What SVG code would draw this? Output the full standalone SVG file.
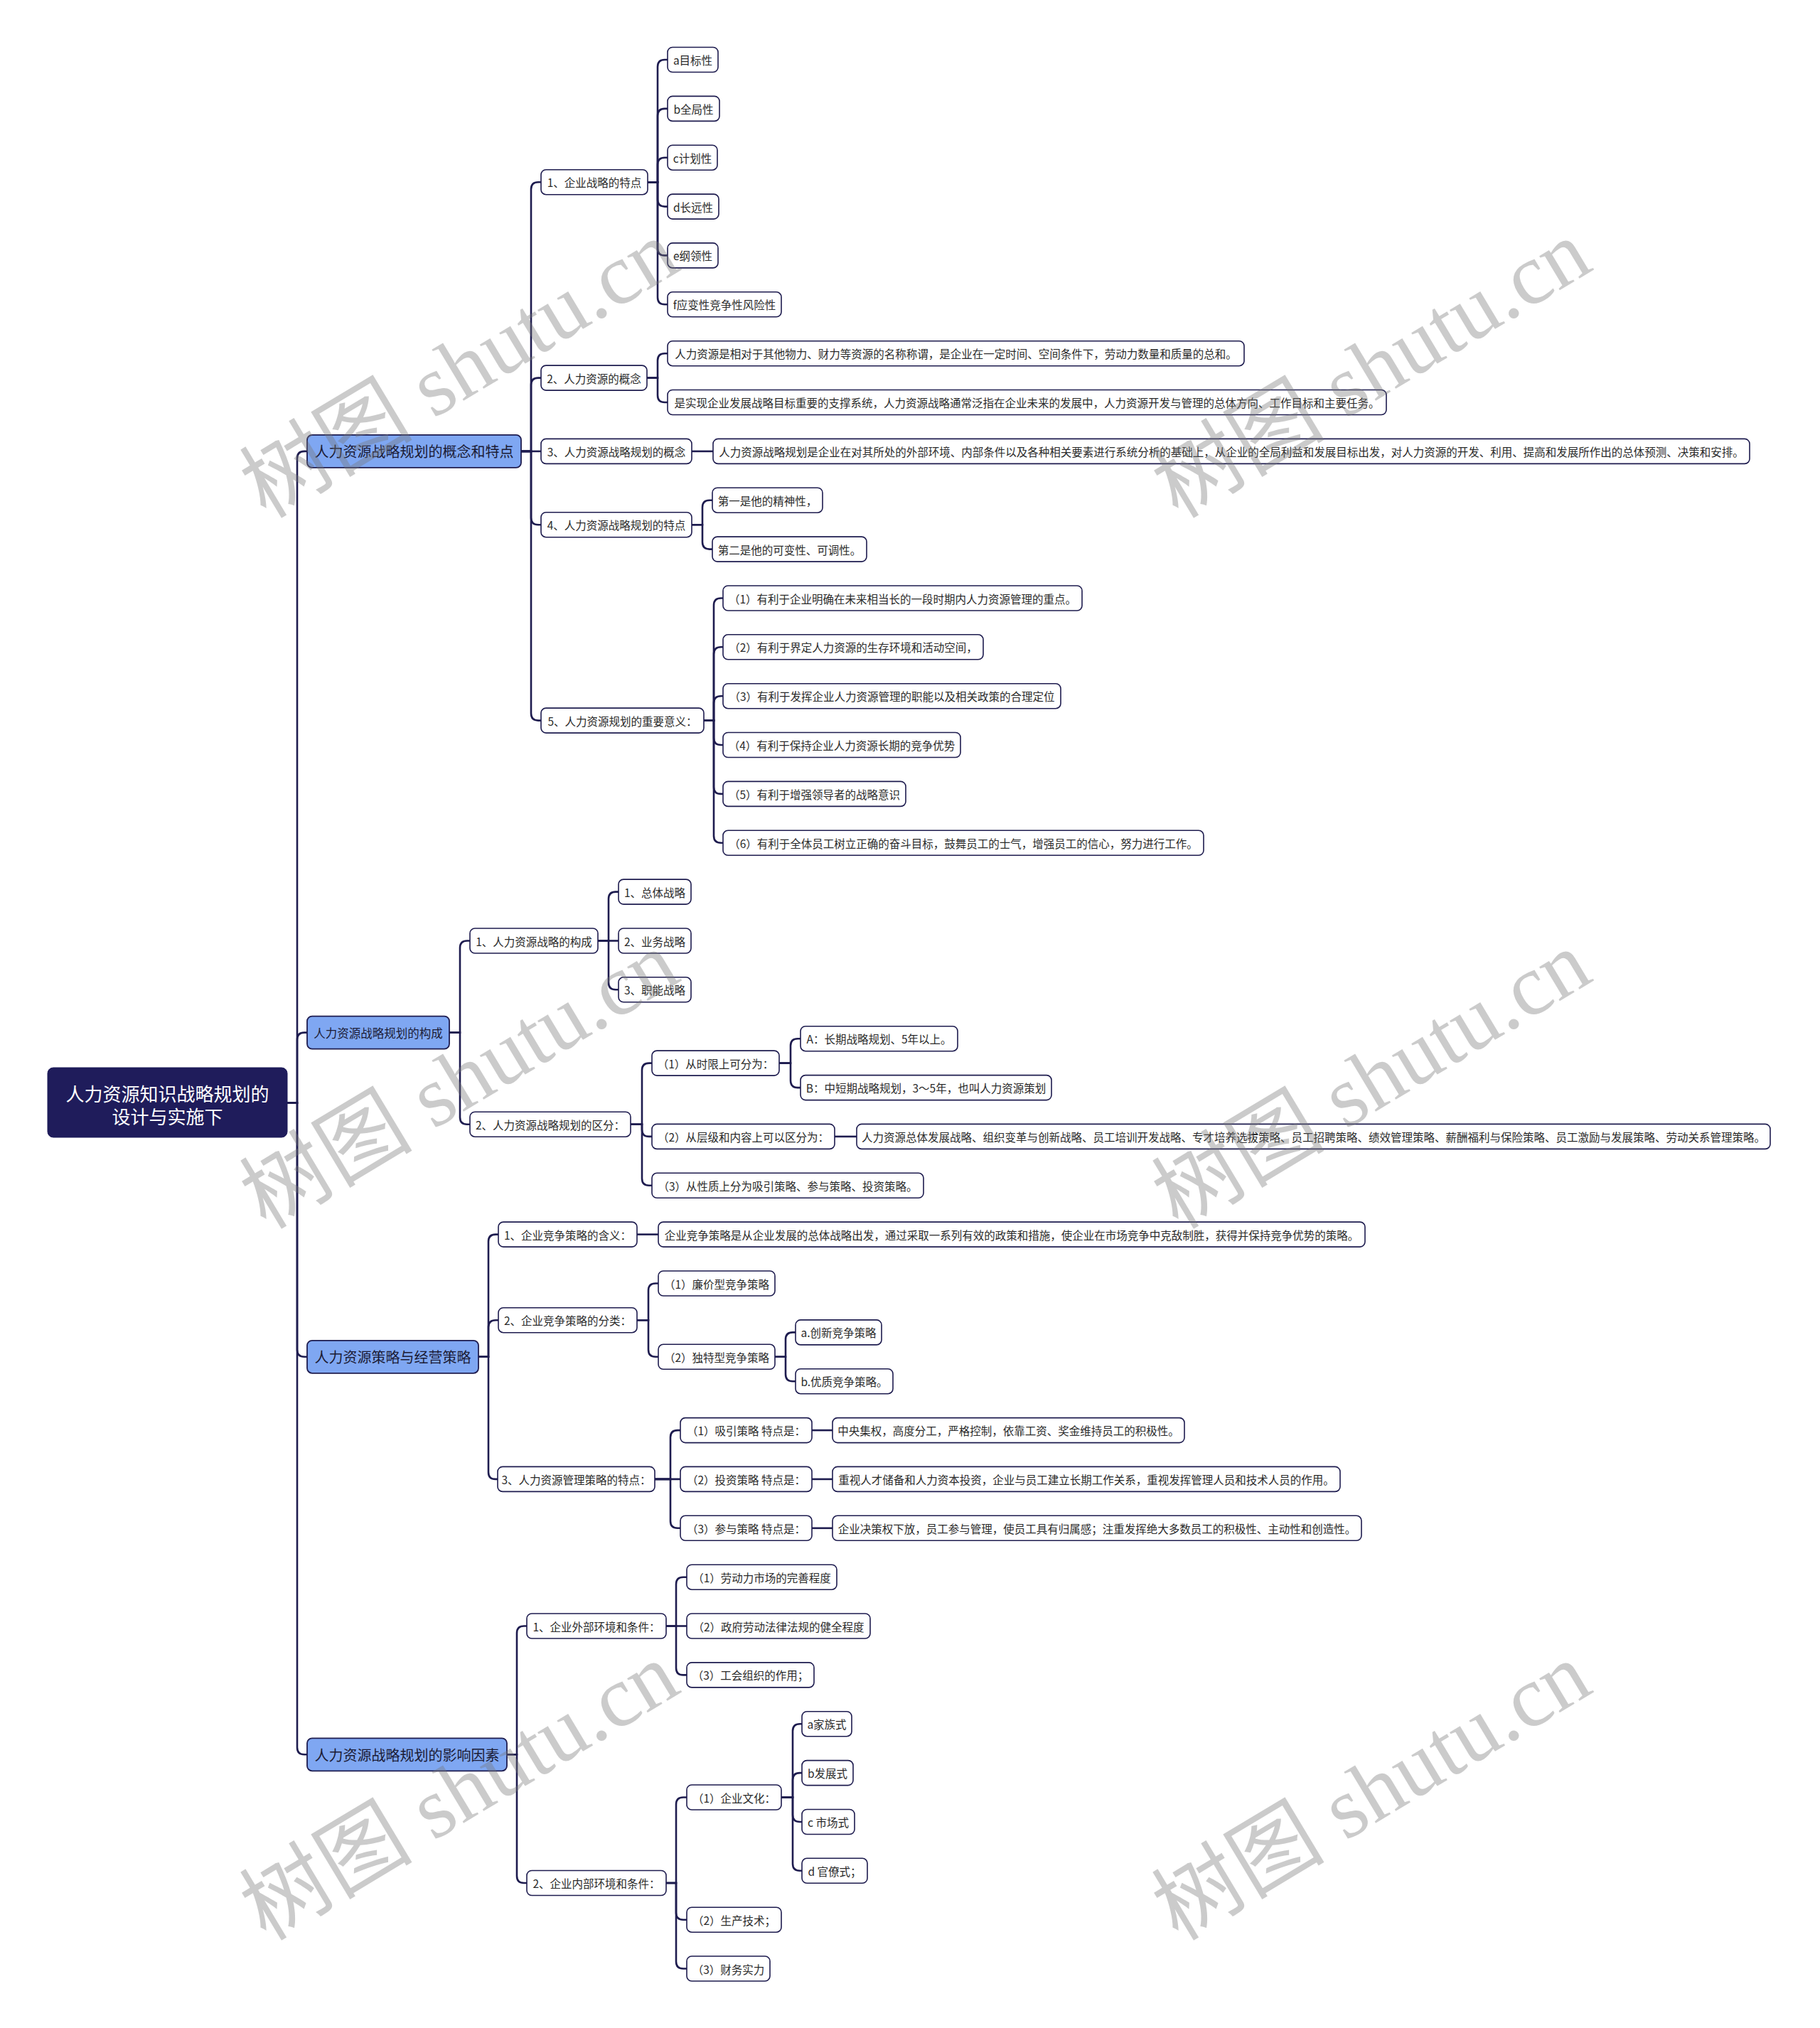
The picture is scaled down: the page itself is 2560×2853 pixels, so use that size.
<svg xmlns="http://www.w3.org/2000/svg" width="2560" height="2853" viewBox="0 0 2560 2853">
<style>
.bg{fill:#ffffff}
.cn path{fill:none;stroke:#1e1c4f;stroke-width:2.6}
.lf rect{fill:#ffffff;stroke:#1e1c4f;stroke-width:1.6}
.lf text{font-family:"Noto Sans CJK SC","Noto Sans",sans-serif;font-size:15.5px;fill:#2a2a2a;text-anchor:middle;dominant-baseline:central}
.l1 rect{fill:#7fa7f2;stroke:#1e1c4f;stroke-width:1.8}
.l1 text{font-family:"Noto Sans CJK SC","Noto Sans",sans-serif;font-size:20px;fill:#1b1b35;text-anchor:middle;dominant-baseline:central}
.rt rect{fill:#1f1c5b;stroke:#1f1c5b;stroke-width:1}
.rt text{font-family:"Noto Sans CJK SC","Noto Sans",sans-serif;font-size:26px;fill:#ffffff;text-anchor:middle;dominant-baseline:central}
.wm text{font-family:"Liberation Serif","Noto Sans CJK SC",serif;font-size:122px;fill:#777777;fill-opacity:0.38;text-anchor:middle;dominant-baseline:central}
</style>
<rect class="bg" x="0" y="0" width="2560" height="2853"/>

<g id="connectors" class="cn">
<path d="M404 1551.6H418V644.9Q418 634.9 428 634.9H432"/>
<path d="M404 1551.6H418V1462.6Q418 1452.6 428 1452.6H432"/>
<path d="M404 1551.6H418V1898.8Q418 1908.8 428 1908.8H432"/>
<path d="M404 1551.6H418V2458.3Q418 2468.3 428 2468.3H432"/>

<path d="M733 634.9H747V266.2Q747 256.2 757 256.2H761"/>
<path d="M733 634.9H747V541.6Q747 531.6 757 531.6H761"/>
<path d="M733 634.9H761"/>
<path d="M733 634.9H747V728.2Q747 738.2 757 738.2H761"/>
<path d="M733 634.9H747V1003.6Q747 1013.6 757 1013.6H761"/>

<path d="M911 256.2H925V94Q925 84 935 84H939"/>
<path d="M911 256.2H925V162.9Q925 152.9 935 152.9H939"/>
<path d="M911 256.2H925V231.7Q925 221.7 935 221.7H939"/>
<path d="M911 256.2H925V280.6Q925 290.6 935 290.6H939"/>
<path d="M911 256.2H925V349.4Q925 359.4 935 359.4H939"/>
<path d="M911 256.2H925V418.3Q925 428.3 935 428.3H939"/>

<path d="M910 531.6H925V507.2Q925 497.2 935 497.2H939"/>
<path d="M910 531.6H925V556Q925 566 935 566H939"/>

<path d="M973 634.9H1003"/>

<path d="M973 738.2H988V713.7Q988 703.7 998 703.7H1002"/>
<path d="M973 738.2H988V762.6Q988 772.6 998 772.6H1002"/>

<path d="M990 1013.6H1004V851.5Q1004 841.5 1014 841.5H1017"/>
<path d="M990 1013.6H1004V920.3Q1004 910.3 1014 910.3H1017"/>
<path d="M990 1013.6H1004V989.2Q1004 979.2 1014 979.2H1017"/>
<path d="M990 1013.6H1004V1038Q1004 1048 1014 1048H1017"/>
<path d="M990 1013.6H1004V1106.9Q1004 1116.9 1014 1116.9H1017"/>
<path d="M990 1013.6H1004V1175.8Q1004 1185.8 1014 1185.8H1017"/>

<path d="M632 1452.6H647V1333.5Q647 1323.5 657 1323.5H661"/>
<path d="M632 1452.6H647V1571.7Q647 1581.7 657 1581.7H661"/>

<path d="M841 1323.5H856V1264.6Q856 1254.6 866 1254.6H870"/>
<path d="M841 1323.5H870"/>
<path d="M841 1323.5H856V1382.3Q856 1392.3 866 1392.3H870"/>

<path d="M887 1581.7H903V1505.6Q903 1495.6 913 1495.6H917"/>
<path d="M887 1581.7H903V1588.9Q903 1598.9 913 1598.9H917"/>
<path d="M887 1581.7H903V1657.8Q903 1667.8 913 1667.8H917"/>

<path d="M1096 1495.6H1112V1471.2Q1112 1461.2 1122 1461.2H1126"/>
<path d="M1096 1495.6H1112V1520.1Q1112 1530.1 1122 1530.1H1126"/>

<path d="M1174 1598.9H1205"/>

<path d="M673 1908.8H687V1746.6Q687 1736.6 697 1736.6H701"/>
<path d="M673 1908.8H687V1867.2Q687 1857.2 697 1857.2H701"/>
<path d="M673 1908.8H687V2070.9Q687 2080.9 697 2080.9H700"/>

<path d="M896 1736.6H926"/>

<path d="M896 1857.2H912V1815.5Q912 1805.5 922 1805.5H926"/>
<path d="M896 1857.2H912V1898.8Q912 1908.8 922 1908.8H926"/>

<path d="M1090 1908.8H1105V1884.4Q1105 1874.4 1115 1874.4H1119"/>
<path d="M1090 1908.8H1105V1933.2Q1105 1943.2 1115 1943.2H1119"/>

<path d="M921 2080.9H943V2022.1Q943 2012.1 953 2012.1H957"/>
<path d="M921 2080.9H957"/>
<path d="M921 2080.9H943V2139.8Q943 2149.8 953 2149.8H957"/>

<path d="M1142 2012.1H1171"/>
<path d="M1142 2080.9H1171"/>
<path d="M1142 2149.8H1171"/>

<path d="M713 2468.3H727V2297.5Q727 2287.5 737 2287.5H741"/>
<path d="M713 2468.3H727V2639Q727 2649 737 2649H741"/>

<path d="M937 2287.5H951V2228.7Q951 2218.7 961 2218.7H966"/>
<path d="M937 2287.5H966"/>
<path d="M937 2287.5H951V2346.4Q951 2356.4 961 2356.4H966"/>

<path d="M937 2649H951V2538.5Q951 2528.5 961 2528.5H966"/>
<path d="M937 2649H951V2690.7Q951 2700.7 961 2700.7H966"/>
<path d="M937 2649H951V2759.5Q951 2769.5 961 2769.5H966"/>

<path d="M1099 2528.5H1115V2435.2Q1115 2425.2 1125 2425.2H1128"/>
<path d="M1099 2528.5H1115V2504.1Q1115 2494.1 1125 2494.1H1128"/>
<path d="M1099 2528.5H1115V2553Q1115 2563 1125 2563H1128"/>
<path d="M1099 2528.5H1115V2621.8Q1115 2631.8 1125 2631.8H1128"/>
</g>

<g id="root" class="rt"><rect x="67" y="1502" width="337" height="98" rx="8"/><text x="235.5" y="1537">人力资源知识战略规划的</text><text x="235.5" y="1569">设计与实施下</text></g>

<g id="n1" class="l1"><rect x="432" y="611.9" width="301" height="46" rx="7"/><text x="582.5" y="634.9">人力资源战略规划的概念和特点</text></g>
<g id="n2" class="l1"><rect x="432" y="1429.6" width="200" height="46" rx="7"/><text x="532" y="1452.6" style="font-size:16.5px">人力资源战略规划的构成</text></g>
<g id="n3" class="l1"><rect x="432" y="1885.8" width="241" height="46" rx="7"/><text x="552.5" y="1908.8">人力资源策略与经营策略</text></g>
<g id="n4" class="l1"><rect x="432" y="2445.3" width="281" height="46" rx="7"/><text x="572.5" y="2468.3">人力资源战略规划的影响因素</text></g>

<g id="n1_1" class="lf"><rect x="761" y="238.7" width="150" height="35" rx="7"/><text x="836" y="256.2">1、企业战略的特点</text></g>
<g id="n1_1_a" class="lf"><rect x="939" y="66.5" width="71" height="35" rx="7"/><text x="974.5" y="84">a目标性</text></g>
<g id="n1_1_b" class="lf"><rect x="939" y="135.4" width="73" height="35" rx="7"/><text x="975.5" y="152.9">b全局性</text></g>
<g id="n1_1_c" class="lf"><rect x="939" y="204.2" width="70" height="35" rx="7"/><text x="974" y="221.7">c计划性</text></g>
<g id="n1_1_d" class="lf"><rect x="939" y="273.1" width="72" height="35" rx="7"/><text x="975" y="290.6">d长远性</text></g>
<g id="n1_1_e" class="lf"><rect x="939" y="341.9" width="71" height="35" rx="7"/><text x="974.5" y="359.4">e纲领性</text></g>
<g id="n1_1_f" class="lf"><rect x="939" y="410.8" width="160" height="35" rx="7"/><text x="1019" y="428.3">f应变性竞争性风险性</text></g>

<g id="n1_2" class="lf"><rect x="761" y="514.1" width="149" height="35" rx="7"/><text x="835.5" y="531.6">2、人力资源的概念</text></g>
<g id="n1_2_1" class="lf"><rect x="939" y="479.7" width="811" height="35" rx="7"/><text x="1344.5" y="497.2">人力资源是相对于其他物力、财力等资源的名称称谓，是企业在一定时间、空间条件下，劳动力数量和质量的总和。</text></g>
<g id="n1_2_2" class="lf"><rect x="939" y="548.5" width="1011" height="35" rx="7"/><text x="1444.5" y="566">是实现企业发展战略目标重要的支撑系统，人力资源战略通常泛指在企业未来的发展中，人力资源开发与管理的总体方向、工作目标和主要任务。</text></g>

<g id="n1_3" class="lf"><rect x="761" y="617.4" width="212" height="35" rx="7"/><text x="867" y="634.9">3、人力资源战略规划的概念</text></g>
<g id="n1_3_1" class="lf"><rect x="1003" y="617.4" width="1458" height="35" rx="7"/><text x="1732" y="634.9">人力资源战略规划是企业在对其所处的外部环境、内部条件以及各种相关要素进行系统分析的基础上，从企业的全局利益和发展目标出发，对人力资源的开发、利用、提高和发展所作出的总体预测、决策和安排。</text></g>

<g id="n1_4" class="lf"><rect x="761" y="720.7" width="212" height="35" rx="7"/><text x="867" y="738.2">4、人力资源战略规划的特点</text></g>
<g id="n1_4_1" class="lf"><rect x="1002" y="686.2" width="155" height="35" rx="7"/><text x="1079.5" y="703.7">第一是他的精神性，</text></g>
<g id="n1_4_2" class="lf"><rect x="1002" y="755.1" width="217" height="35" rx="7"/><text x="1110.5" y="772.6">第二是他的可变性、可调性。</text></g>

<g id="n1_5" class="lf"><rect x="761" y="996.1" width="229" height="35" rx="7"/><text x="875.5" y="1013.6">5、人力资源规划的重要意义：</text></g>
<g id="n1_5_1" class="lf"><rect x="1017" y="824" width="505" height="35" rx="7"/><text x="1269.5" y="841.5">（1）有利于企业明确在未来相当长的一段时期内人力资源管理的重点。</text></g>
<g id="n1_5_2" class="lf"><rect x="1017" y="892.8" width="366" height="35" rx="7"/><text x="1200" y="910.3">（2）有利于界定人力资源的生存环境和活动空间，</text></g>
<g id="n1_5_3" class="lf"><rect x="1017" y="961.7" width="475" height="35" rx="7"/><text x="1254.5" y="979.2">（3）有利于发挥企业人力资源管理的职能以及相关政策的合理定位</text></g>
<g id="n1_5_4" class="lf"><rect x="1017" y="1030.5" width="334" height="35" rx="7"/><text x="1184" y="1048">（4）有利于保持企业人力资源长期的竞争优势</text></g>
<g id="n1_5_5" class="lf"><rect x="1017" y="1099.4" width="257" height="35" rx="7"/><text x="1145.5" y="1116.9">（5）有利于增强领导者的战略意识</text></g>
<g id="n1_5_6" class="lf"><rect x="1017" y="1168.3" width="676" height="35" rx="7"/><text x="1355" y="1185.8">（6）有利于全体员工树立正确的奋斗目标，鼓舞员工的士气，增强员工的信心，努力进行工作。</text></g>

<g id="n2_1" class="lf"><rect x="661" y="1306" width="180" height="35" rx="7"/><text x="751" y="1323.5">1、人力资源战略的构成</text></g>
<g id="n2_1_1" class="lf"><rect x="870" y="1237.1" width="102" height="35" rx="7"/><text x="921" y="1254.6">1、总体战略</text></g>
<g id="n2_1_2" class="lf"><rect x="870" y="1306" width="102" height="35" rx="7"/><text x="921" y="1323.5">2、业务战略</text></g>
<g id="n2_1_3" class="lf"><rect x="870" y="1374.8" width="102" height="35" rx="7"/><text x="921" y="1392.3">3、职能战略</text></g>

<g id="n2_2" class="lf"><rect x="661" y="1564.2" width="226" height="35" rx="7"/><text x="774" y="1581.7">2、人力资源战略规划的区分：</text></g>
<g id="n2_2_1" class="lf"><rect x="917" y="1478.1" width="179" height="35" rx="7"/><text x="1006.5" y="1495.6">（1）从时限上可分为：</text></g>
<g id="n2_2_1_a" class="lf"><rect x="1126" y="1443.7" width="221" height="35" rx="7"/><text x="1236.5" y="1461.2">A：长期战略规划、5年以上。</text></g>
<g id="n2_2_1_b" class="lf"><rect x="1126" y="1512.6" width="353" height="35" rx="7"/><text x="1302.5" y="1530.1">B：中短期战略规划，3～5年，也叫人力资源策划</text></g>
<g id="n2_2_2" class="lf"><rect x="917" y="1581.4" width="257" height="35" rx="7"/><text x="1045.5" y="1598.9">（2）从层级和内容上可以区分为：</text></g>
<g id="n2_2_2_1" class="lf"><rect x="1205" y="1581.4" width="1285" height="35" rx="7"/><text x="1847.5" y="1598.9">人力资源总体发展战略、组织变革与创新战略、员工培训开发战略、专才培养选拔策略、员工招聘策略、绩效管理策略、薪酬福利与保险策略、员工激励与发展策略、劳动关系管理策略。</text></g>
<g id="n2_2_3" class="lf"><rect x="917" y="1650.3" width="382" height="35" rx="7"/><text x="1108" y="1667.8">（3）从性质上分为吸引策略、参与策略、投资策略。</text></g>

<g id="n3_1" class="lf"><rect x="701" y="1719.1" width="195" height="35" rx="7"/><text x="798.5" y="1736.6">1、企业竞争策略的含义：</text></g>
<g id="n3_1_1" class="lf"><rect x="926" y="1719.1" width="994" height="35" rx="7"/><text x="1423" y="1736.6">企业竞争策略是从企业发展的总体战略出发，通过采取一系列有效的政策和措施，使企业在市场竞争中克敌制胜，获得并保持竞争优势的策略。</text></g>
<g id="n3_2" class="lf"><rect x="701" y="1839.7" width="195" height="35" rx="7"/><text x="798.5" y="1857.2">2、企业竞争策略的分类：</text></g>
<g id="n3_2_1" class="lf"><rect x="926" y="1788" width="164" height="35" rx="7"/><text x="1008" y="1805.5">（1）廉价型竞争策略</text></g>
<g id="n3_2_2" class="lf"><rect x="926" y="1891.3" width="164" height="35" rx="7"/><text x="1008" y="1908.8">（2）独特型竞争策略</text></g>
<g id="n3_2_2_a" class="lf"><rect x="1119" y="1856.9" width="121" height="35" rx="7"/><text x="1179.5" y="1874.4">a.创新竞争策略</text></g>
<g id="n3_2_2_b" class="lf"><rect x="1119" y="1925.7" width="137" height="35" rx="7"/><text x="1187.5" y="1943.2">b.优质竞争策略。</text></g>
<g id="n3_3" class="lf"><rect x="700" y="2063.4" width="221" height="35" rx="7"/><text x="810.5" y="2080.9">3、人力资源管理策略的特点：</text></g>
<g id="n3_3_1" class="lf"><rect x="957" y="1994.6" width="185" height="35" rx="7"/><text x="1049.5" y="2012.1">（1）吸引策略 特点是：</text></g>
<g id="n3_3_1_1" class="lf"><rect x="1171" y="1994.6" width="495" height="35" rx="7"/><text x="1418.5" y="2012.1">中央集权，高度分工，严格控制，依靠工资、奖金维持员工的积极性。</text></g>
<g id="n3_3_2" class="lf"><rect x="957" y="2063.4" width="185" height="35" rx="7"/><text x="1049.5" y="2080.9">（2）投资策略 特点是：</text></g>
<g id="n3_3_2_1" class="lf"><rect x="1171" y="2063.4" width="714" height="35" rx="7"/><text x="1528" y="2080.9">重视人才储备和人力资本投资，企业与员工建立长期工作关系，重视发挥管理人员和技术人员的作用。</text></g>
<g id="n3_3_3" class="lf"><rect x="957" y="2132.3" width="185" height="35" rx="7"/><text x="1049.5" y="2149.8">（3）参与策略 特点是：</text></g>
<g id="n3_3_3_1" class="lf"><rect x="1171" y="2132.3" width="744" height="35" rx="7"/><text x="1543" y="2149.8">企业决策权下放，员工参与管理，使员工具有归属感；注重发挥绝大多数员工的积极性、主动性和创造性。</text></g>

<g id="n4_1" class="lf"><rect x="741" y="2270" width="196" height="35" rx="7"/><text x="839" y="2287.5">1、企业外部环境和条件：</text></g>
<g id="n4_1_1" class="lf"><rect x="966" y="2201.2" width="211" height="35" rx="7"/><text x="1071.5" y="2218.7">（1）劳动力市场的完善程度</text></g>
<g id="n4_1_2" class="lf"><rect x="966" y="2270" width="258" height="35" rx="7"/><text x="1095" y="2287.5">（2）政府劳动法律法规的健全程度</text></g>
<g id="n4_1_3" class="lf"><rect x="966" y="2338.9" width="179" height="35" rx="7"/><text x="1055.5" y="2356.4">（3）工会组织的作用；</text></g>
<g id="n4_2" class="lf"><rect x="741" y="2631.5" width="196" height="35" rx="7"/><text x="839" y="2649">2、企业内部环境和条件：</text></g>
<g id="n4_2_1" class="lf"><rect x="966" y="2511" width="133" height="35" rx="7"/><text x="1032.5" y="2528.5">（1）企业文化：</text></g>
<g id="n4_2_1_a" class="lf"><rect x="1128" y="2407.7" width="70" height="35" rx="7"/><text x="1163" y="2425.2">a家族式</text></g>
<g id="n4_2_1_b" class="lf"><rect x="1128" y="2476.6" width="72" height="35" rx="7"/><text x="1164" y="2494.1">b发展式</text></g>
<g id="n4_2_1_c" class="lf"><rect x="1128" y="2545.5" width="74" height="35" rx="7"/><text x="1165" y="2563">c 市场式</text></g>
<g id="n4_2_1_d" class="lf"><rect x="1128" y="2614.3" width="92" height="35" rx="7"/><text x="1174" y="2631.8">d 官僚式；</text></g>
<g id="n4_2_2" class="lf"><rect x="966" y="2683.2" width="133" height="35" rx="7"/><text x="1032.5" y="2700.7">（2）生产技术；</text></g>
<g id="n4_2_3" class="lf"><rect x="966" y="2752" width="117" height="35" rx="7"/><text x="1024.5" y="2769.5">（3）财务实力</text></g>

<g id="watermarks" class="wm">
<text transform="translate(646 519) rotate(-31)">树图 shutu.cn</text>
<text transform="translate(1929 519) rotate(-31)">树图 shutu.cn</text>
<text transform="translate(646 1519) rotate(-31)">树图 shutu.cn</text>
<text transform="translate(1929 1519) rotate(-31)">树图 shutu.cn</text>
<text transform="translate(646 2520) rotate(-31)">树图 shutu.cn</text>
<text transform="translate(1929 2520) rotate(-31)">树图 shutu.cn</text>
</g>
</svg>
